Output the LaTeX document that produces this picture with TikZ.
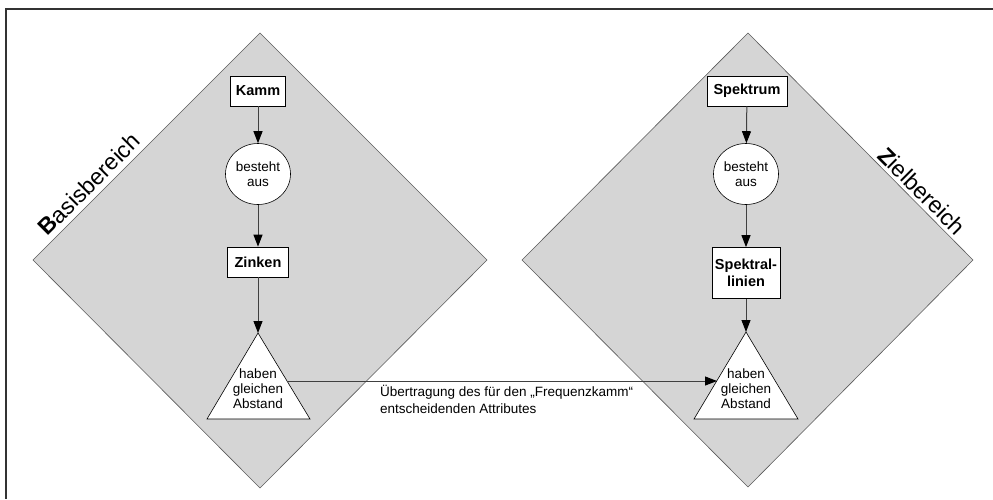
\documentclass[tikz,border=0pt]{standalone}
\usepackage{fontspec}
\setmainfont{Liberation Sans}
\usetikzlibrary{arrows.meta,shapes.geometric}
\definecolor{regiongray}{RGB}{213,213,213}
\definecolor{edgegray}{RGB}{90,90,90}
\begin{document}
\begin{tikzpicture}[x=1pt,y=-1pt,
  region/.style={fill=regiongray, draw=edgegray, line width=0.6pt},
  regionlabel/.style={inner sep=0pt, font=\fontsize{23}{25}\selectfont},
  conceptbox/.style={draw=black, fill=white, line width=0.7pt, inner sep=0pt,
    minimum height=30pt, align=center, font=\fontsize{14.5}{16.5}\selectfont\bfseries},
  relation/.style={ellipse, draw=black, fill=white, line width=0.6pt, inner sep=0pt,
    minimum width=65pt, minimum height=61pt, align=center,
    font=\fontsize{13.5}{15}\selectfont},
  attrtext/.style={inner sep=0pt, align=center, font=\fontsize{13.5}{15}\selectfont},
  attrshape/.style={draw=black, fill=white, line width=0.6pt, line join=miter},
  flow/.style={draw=black!75, line width=1pt,
    -{Triangle[length=12pt,width=9pt,color=black]}},
  note/.style={inner sep=0pt, align=left, font=\fontsize{13.5}{16.5}\selectfont}
]
\useasboundingbox (0,0) rectangle (993,499);

% frame (top and left edges)
\draw[line width=2pt, black!80] (993,9) -- (6,9) -- (6,499);

% the two domains
\draw[region] (260,33) -- (487,260) -- (260,488) -- (33,260) -- cycle;
\draw[region] (748,33) -- (973,260) -- (748,487) -- (522,260) -- cycle;

\node[regionlabel, rotate=45] (basis) at (89,184) {\textbf{B}asisbereich};
\node[regionlabel, rotate=-45] (ziel) at (922,191) {\textbf{Z}ielbereich};

% source domain
\node[conceptbox, minimum width=55pt] (kamm) at (258,91) {Kamm};
\node[relation] (bestL) at (258,174) {besteht\\aus};
\node[conceptbox, minimum width=61pt] (zinken) at (258,262) {Zinken};
\coordinate (apexL) at (258,333);
\coordinate (blL) at (207,419);
\coordinate (brL) at (310,419);
\coordinate (edgeL) at (287,381);
\draw[attrshape] (apexL) -- (brL) -- (blL) -- cycle;
\node[attrtext] (attrL) at (258,389) {haben\\gleichen\\Abstand};

% target domain
\node[conceptbox, minimum width=80pt] (spektrum) at (747,91) {Spektrum};
\node[relation] (bestR) at (746,174) {besteht\\aus};
\node[conceptbox, minimum width=68pt, minimum height=51pt] (linien) at (746,273) {Spektral-\\linien};
\coordinate (apexR) at (746,332);
\coordinate (blR) at (694,419);
\coordinate (brR) at (798,419);
\coordinate (edgeR) at (717,381);
\draw[attrshape] (apexR) -- (brR) -- (blR) -- cycle;
\node[attrtext] (attrR) at (746,389) {haben\\gleichen\\Abstand};

% connectors
\draw[flow] (kamm) -- (bestL);
\draw[flow] (bestL) -- (zinken);
\draw[flow] (zinken) -- (apexL);
\draw[flow] (spektrum) -- (bestR);
\draw[flow] (bestR) -- (linien);
\draw[flow] (linien) -- (apexR);
\draw[flow] (edgeL) -- (edgeR);

\node[note, anchor=north west] (transfer) at (380,385)
  {Übertragung des für den „Frequenzkamm“\\entscheidenden Attributes};
\end{tikzpicture}
\end{document}
